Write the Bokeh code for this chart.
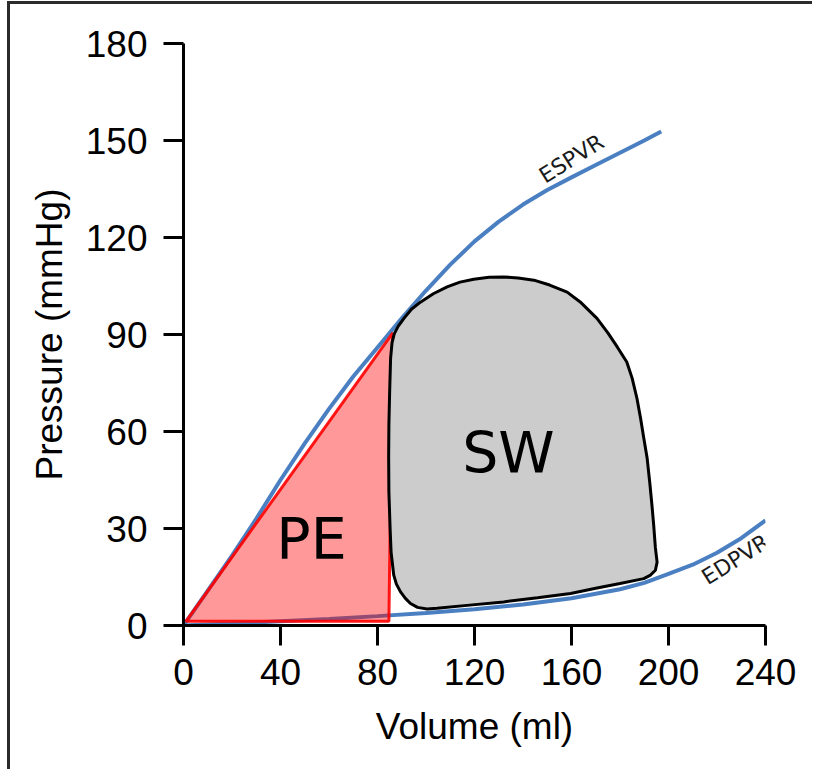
import math
from bokeh.plotting import figure
from bokeh.models import Range1d, FixedTicker
from bokeh.core.properties import value
from bokeh.embed import file_html
from bokeh.resources import INLINE

# ---- data ----
x_ticks = [0, 40, 80, 120, 160, 200, 240]
y_ticks = [0, 30, 60, 90, 120, 150, 180]

espvr_v = [0, 10, 20, 30, 40, 50, 60, 70, 80, 90, 100, 110, 120, 130, 140, 150, 160, 170, 180, 190, 197]
espvr_p = [0, 10.8, 21.6, 33, 45, 56.3, 67, 77, 86, 95, 103.6, 111.6, 118.8, 124.9, 130.2, 134.7, 138.6, 142.4, 146.2, 150, 152.8]

edpvr_v = [0, 20, 40, 60, 80, 100, 120, 140, 160, 180, 190, 200, 210, 220, 230, 240]
edpvr_p = [0, 0.6, 1.3, 2.0, 2.9, 3.9, 5.0, 6.5, 8.4, 11.2, 13.2, 16.0, 18.8, 22.5, 27.0, 32.5]

pe_v = [1.0, 86.3, 84.7]
pe_p = [1.3, 90.5, 1.3]

sw_v = [88.5, 90.9, 94, 97.7, 103, 108.7, 114, 119.7, 126, 132, 138, 144.5, 151, 158.2, 164, 170.5,
        175, 179, 182.8, 185, 187, 188.5, 189.8, 191.2, 192.3, 193.2, 193.9, 194.6, 195.3,
        194.6, 192.6, 189.8, 180, 170, 159.6, 146, 132, 118, 104.6, 100.4, 96.5, 93.6, 91.5,
        89.5, 87.8, 86.7, 85.6, 85.2, 84.7, 84.6, 84.7, 85, 85.4, 86, 86.9]
sw_p = [92.5, 95, 97.8, 100, 102.6, 104.7, 106.2, 107.1, 107.7, 107.8, 107.5, 106.8, 105.3, 103.1, 99.8, 95,
        90.5, 86, 81.5, 76.5, 70.2, 64, 58, 51.7, 44, 37, 31, 24, 19.6,
        17.1, 15.6, 14.5, 13.0, 11.5, 9.9, 8.6, 7.3, 6.3, 5.3, 5.1, 5.6, 6.8, 8.4,
        10.4, 12.8, 15.6, 22.7, 30, 41.3, 52, 62, 72, 82.6, 87.5, 90.2]

area_labels = ["PE", "SW"]
area_label_v = [52.8, 134]
area_label_p = [26.6, 53.5]

curve_labels = ["ESPVR", "EDPVR"]
curve_label_v = [160, 227.6]
curve_label_p = [144.4, 20.4]
curve_label_deg = [32, 32]

# ---- figure ----
p = figure(width=805, height=768, output_backend="svg", toolbar_location=None,
           x_range=Range1d(0, 240), y_range=Range1d(0, 180),
           min_border_left=173, min_border_right=50, min_border_top=39, min_border_bottom=147)
p.outline_line_color = None
p.xgrid.grid_line_color = None
p.ygrid.grid_line_color = None
p.background_fill_color = "white"
p.border_fill_color = "white"
p.styles = {"border-top": "3px solid #2b2b2b", "border-left": "3px solid #2b2b2b",
            "margin-left": "7px", "margin-top": "1px"}

for ax in (p.xaxis[0], p.yaxis[0]):
    ax.axis_line_width = 3
    ax.axis_line_color = "black"
    ax.major_tick_line_width = 3
    ax.major_tick_line_color = "black"
    ax.major_tick_out = 20
    ax.major_tick_in = 0
    ax.minor_tick_line_color = None
    ax.major_label_text_font = "Liberation Sans"
    ax.major_label_text_font_size = "37px"
    ax.major_label_text_color = "black"
    ax.axis_label_text_font = "Liberation Sans"
    ax.axis_label_text_font_size = "37px"
    ax.axis_label_text_font_style = "normal"
    ax.axis_label_text_color = "black"

p.xaxis.ticker = FixedTicker(ticks=x_ticks)
p.yaxis.ticker = FixedTicker(ticks=y_ticks)
p.xaxis.axis_label = "Volume (ml)"
p.yaxis.axis_label = "Pressure (mmHg)"
p.xaxis.major_label_standoff = 13
p.yaxis.major_label_standoff = 16
p.xaxis.axis_label_standoff = 18
p.yaxis.axis_label_standoff = 13

blue = "#4a7fc1"
p.line(espvr_v, espvr_p, line_color=blue, line_width=4)
p.line(edpvr_v, edpvr_p, line_color=blue, line_width=4)

p.patch(pe_v, pe_p, fill_color="#ff0000", fill_alpha=0.4, line_color="#ff0000", line_width=3, line_alpha=0.9)
p.patch(sw_v, sw_p, fill_color="#cccccc", line_color="black", line_width=3)

p.text(x=area_label_v, y=area_label_p, text=area_labels, text_font=value("DejaVu Sans"),
       text_font_size="57px", text_align="center", text_baseline="middle", text_color="black")

p.text(x=curve_label_v, y=curve_label_p, text=curve_labels,
       angle=[math.radians(a) for a in curve_label_deg],
       text_font=value("DejaVu Sans"), text_font_size="22px",
       text_align="center", text_baseline="middle", text_color="#1a1a1a")

open("out.html", "w").write(file_html(p, INLINE))
